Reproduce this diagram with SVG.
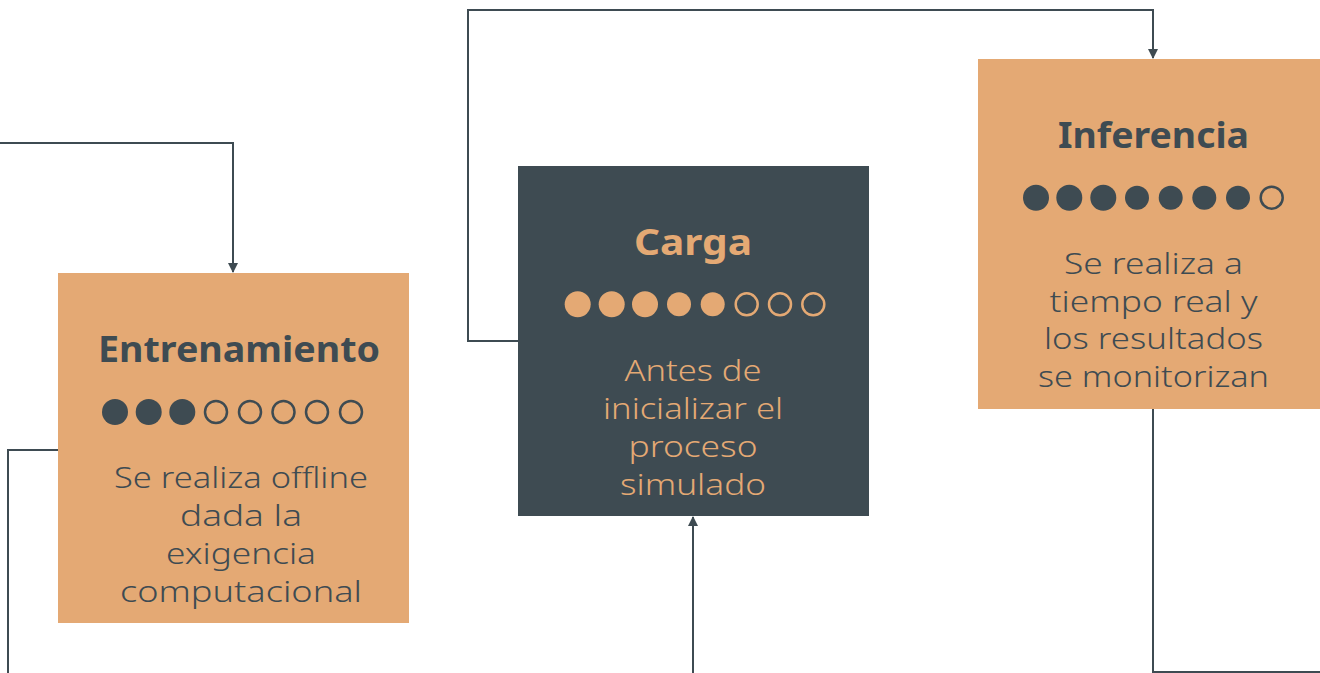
<svg xmlns="http://www.w3.org/2000/svg" width="1320" height="673" viewBox="0 0 1320 673">
<style>
.orange{fill:#E4A974}
.dark{fill:#3E4B52}
.title{font-family:"Noto Sans","Open Sans",sans-serif;font-weight:700;font-size:35px;text-anchor:middle}
.body{font-family:"Noto Sans","Open Sans",sans-serif;font-weight:300;font-size:29px;text-anchor:middle}
.conn{fill:none;stroke:#3E4B52;stroke-width:2}
.dd{fill:#3E4B52}
.dh{fill:none;stroke:#3E4B52;stroke-width:2.5}
.od{fill:#E4A974}
.oh{fill:none;stroke:#E4A974;stroke-width:2.5}
</style>
<defs>
<marker id="arr" markerWidth="10" markerHeight="10" refX="9" refY="5" orient="auto" markerUnits="userSpaceOnUse">
<path d="M0,0 L10,5 L0,10 Z" fill="#3E4B52"/>
</marker>
</defs>
<rect width="1320" height="673" fill="#FFFFFF"/>
<g id="connectors">
<path class="conn" d="M0,143 H233 V272" marker-end="url(#arr)"/>
<path class="conn" d="M58,450 H8 V673"/>
<path class="conn" d="M518,341 H468 V10 H1153 V58" marker-end="url(#arr)"/>
<path class="conn" d="M693,673 V517" marker-end="url(#arr)"/>
<path class="conn" d="M1153,409 V672 H1320"/>
</g>
<g id="entrenamiento">
<rect class="orange" x="58" y="273" width="351" height="350"/>
<text class="title dark" x="239" y="362" textLength="282" lengthAdjust="spacingAndGlyphs">Entrenamiento</text>
<circle class="dd" cx="115" cy="412" r="13"/>
<circle class="dd" cx="148.7" cy="412" r="13"/>
<circle class="dd" cx="182.3" cy="412" r="13"/>
<circle class="dh" cx="216" cy="412" r="11"/>
<circle class="dh" cx="250" cy="412" r="11"/>
<circle class="dh" cx="283.5" cy="412" r="11"/>
<circle class="dh" cx="317" cy="412" r="11"/>
<circle class="dh" cx="351" cy="412" r="11"/>
<text class="body dark" x="241" y="488" textLength="254" lengthAdjust="spacingAndGlyphs">Se realiza offline</text>
<text class="body dark" x="241" y="526" textLength="122" lengthAdjust="spacingAndGlyphs">dada la</text>
<text class="body dark" x="241" y="564" textLength="150" lengthAdjust="spacingAndGlyphs">exigencia</text>
<text class="body dark" x="241" y="602" textLength="242" lengthAdjust="spacingAndGlyphs">computacional</text>
</g>
<g id="carga">
<rect class="dark" x="518" y="166" width="351" height="350"/>
<text class="title orange" x="693" y="255" textLength="118" lengthAdjust="spacingAndGlyphs">Carga</text>
<circle class="od" cx="577.7" cy="304.3" r="13"/>
<circle class="od" cx="611.7" cy="304.3" r="13"/>
<circle class="od" cx="645" cy="304.3" r="13"/>
<circle class="od" cx="679" cy="304.3" r="12"/>
<circle class="od" cx="712.7" cy="304.3" r="12"/>
<circle class="oh" cx="746.7" cy="304.3" r="11"/>
<circle class="oh" cx="780" cy="304.3" r="11"/>
<circle class="oh" cx="813.3" cy="304.3" r="11"/>
<text class="body orange" x="693" y="381" textLength="137" lengthAdjust="spacingAndGlyphs">Antes de</text>
<text class="body orange" x="693" y="419" textLength="180" lengthAdjust="spacingAndGlyphs">inicializar el</text>
<text class="body orange" x="693" y="457" textLength="129" lengthAdjust="spacingAndGlyphs">proceso</text>
<text class="body orange" x="693" y="495" textLength="146" lengthAdjust="spacingAndGlyphs">simulado</text>
</g>
<g id="inferencia">
<rect class="orange" x="978" y="59" width="351" height="350"/>
<text class="title dark" x="1153.5" y="148" textLength="191" lengthAdjust="spacingAndGlyphs">Inferencia</text>
<circle class="dd" cx="1036" cy="197.7" r="13"/>
<circle class="dd" cx="1069.3" cy="197.7" r="13"/>
<circle class="dd" cx="1103.3" cy="197.7" r="13"/>
<circle class="dd" cx="1137" cy="197.7" r="12"/>
<circle class="dd" cx="1170.7" cy="197.7" r="12"/>
<circle class="dd" cx="1204.3" cy="197.7" r="12"/>
<circle class="dd" cx="1238" cy="197.7" r="12"/>
<circle class="dh" cx="1271.7" cy="197.7" r="11"/>
<text class="body dark" x="1153.5" y="274" textLength="179" lengthAdjust="spacingAndGlyphs">Se realiza a</text>
<text class="body dark" x="1153.5" y="312" textLength="208" lengthAdjust="spacingAndGlyphs">tiempo real y</text>
<text class="body dark" x="1153.5" y="349" textLength="219" lengthAdjust="spacingAndGlyphs">los resultados</text>
<text class="body dark" x="1153.5" y="387" textLength="231" lengthAdjust="spacingAndGlyphs">se monitorizan</text>
</g>
</svg>
